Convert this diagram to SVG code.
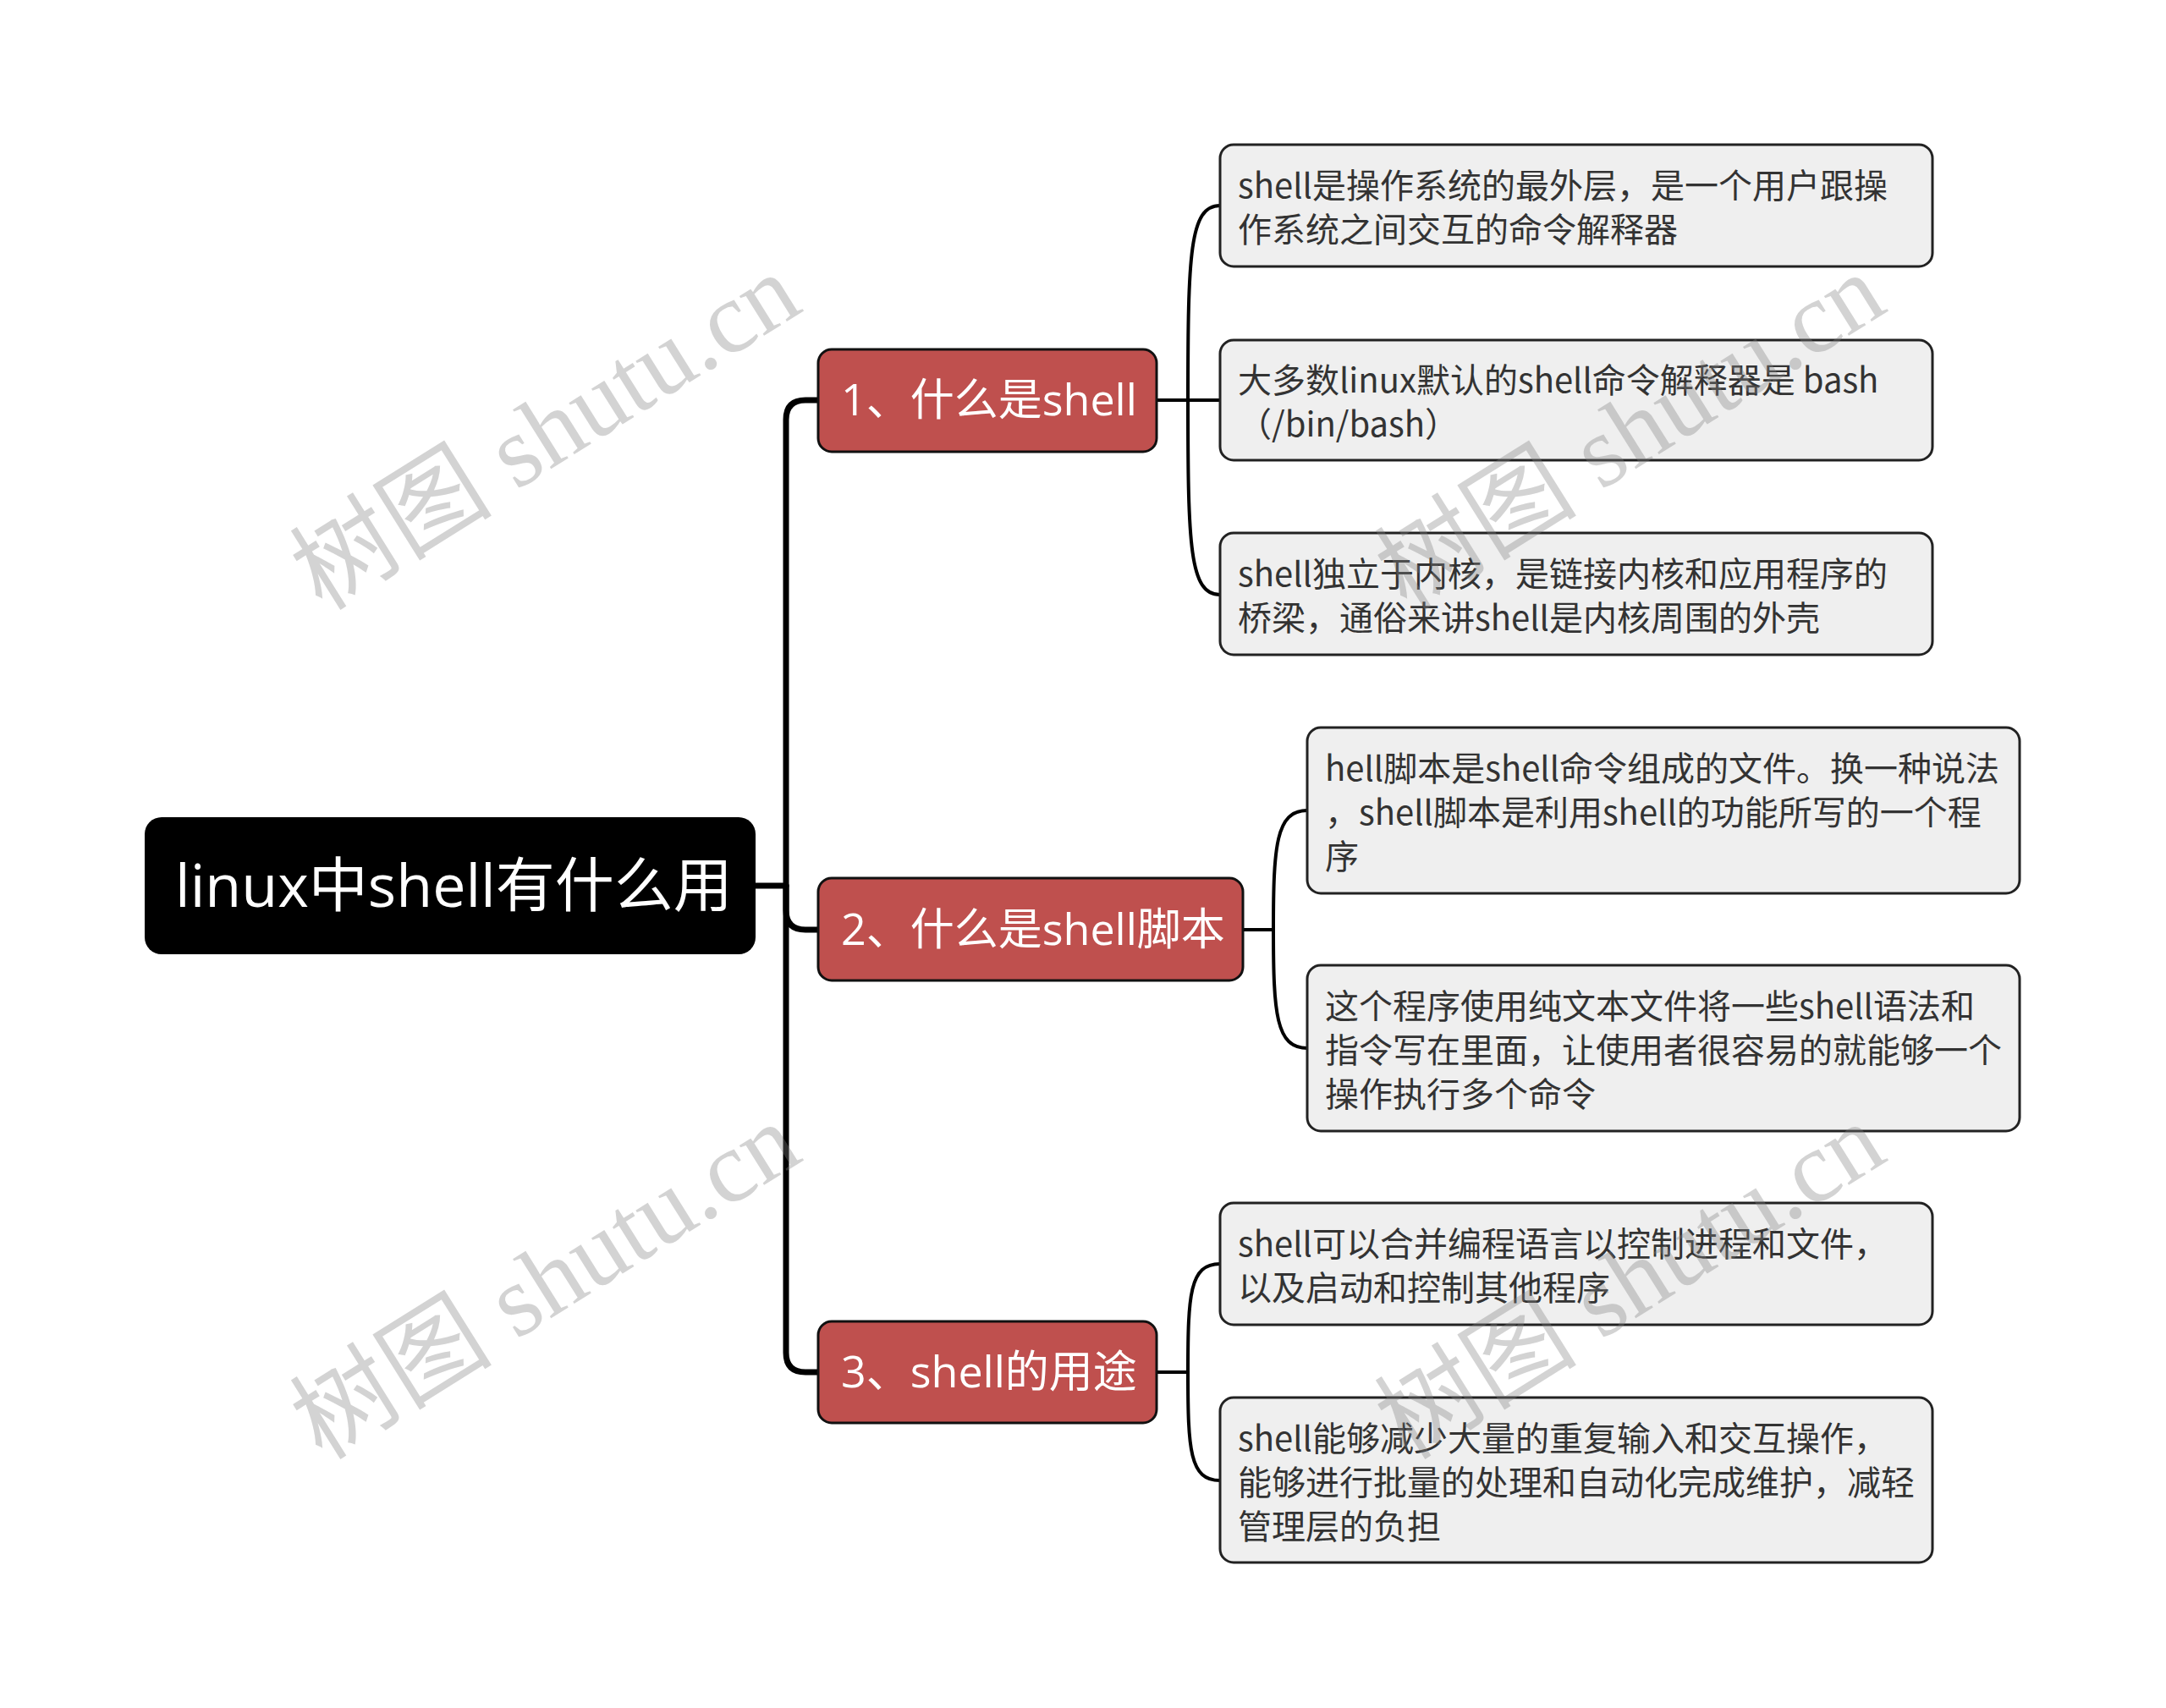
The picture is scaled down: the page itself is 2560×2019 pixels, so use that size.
<svg xmlns="http://www.w3.org/2000/svg" width="2560" height="2019" viewBox="0 0 2560 2019">
<style>
.root rect{fill:#000;stroke:none}
.root text{fill:#fff;font-family:"Open Sans","Noto Sans CJK SC",sans-serif;font-size:70px}
.l1 rect{fill:#BF504E;stroke:#111;stroke-width:3}
.l1 text{fill:#fff;font-family:"Open Sans","Noto Sans CJK SC",sans-serif;font-size:52px}
.leaf rect{fill:#EFEFEF;stroke:#222;stroke-width:3}
.leaf text{fill:#333;font-family:"Noto Sans CJK SC",sans-serif;font-size:40px}
.thick{fill:none;stroke:#000;stroke-width:7;stroke-linecap:round}
.thin{fill:none;stroke:#000;stroke-width:4;stroke-linecap:round}
.wm{fill:#808080;fill-opacity:0.35;font-family:"Liberation Serif","Noto Sans CJK SC",serif;font-size:120px}
</style>
<rect x="0" y="0" width="2560" height="2019" fill="#fff"/>
<g id="connectors">
<path class="thick" d="M893 1047 H929"/>
<path class="thick" d="M967 473 H952 Q929 473 929 496 V1599 Q929 1622 952 1622 H967"/>
<path class="thick" d="M929 1047 V1076 Q929 1099 952 1099 H967"/>
<path class="thin" d="M1367 473 H1442"/>
<path class="thin" d="M1404 473 C1404 300 1406 243 1442 243"/>
<path class="thin" d="M1404 473 C1404 646 1406 703 1442 703"/>
<path class="thin" d="M1469 1099 H1505"/>
<path class="thin" d="M1505 1099 C1505 1000 1508 958 1545 958"/>
<path class="thin" d="M1505 1099 C1505 1198 1508 1239 1545 1239"/>
<path class="thin" d="M1367 1622 H1404"/>
<path class="thin" d="M1404 1622 C1404 1530 1406 1494 1442 1494"/>
<path class="thin" d="M1404 1622 C1404 1714 1406 1750 1442 1750"/>
</g>
<g id="root" class="root">
<rect x="171" y="966" width="722" height="162" rx="20"/>
<text x="207" y="1072">linux中shell有什么用</text>
</g>
<g id="n1" class="l1">
<rect x="967" y="413" width="400" height="121" rx="16"/>
<text x="994" y="491">1、什么是shell</text>
</g>
<g id="n2" class="l1">
<rect x="967" y="1038" width="502" height="121" rx="16"/>
<text x="994" y="1117">2、什么是shell脚本</text>
</g>
<g id="n3" class="l1">
<rect x="967" y="1562" width="400" height="120" rx="16"/>
<text x="994" y="1640">3、shell的用途</text>
</g>
<g id="leaf1" class="leaf">
<rect x="1442" y="171" width="842" height="144" rx="16"/>
<text x="1463" y="234">shell是操作系统的最外层，是一个用户跟操</text>
<text x="1463" y="286">作系统之间交互的命令解释器</text>
</g>
<g id="leaf2" class="leaf">
<rect x="1442" y="402" width="842" height="142" rx="16"/>
<text x="1463" y="464">大多数linux默认的shell命令解释器是 bash</text>
<text x="1463" y="516">（/bin/bash）</text>
</g>
<g id="leaf3" class="leaf">
<rect x="1442" y="630" width="842" height="144" rx="16"/>
<text x="1463" y="693">shell独立于内核，是链接内核和应用程序的</text>
<text x="1463" y="745">桥梁，通俗来讲shell是内核周围的外壳</text>
</g>
<g id="leaf4" class="leaf">
<rect x="1545" y="860" width="842" height="196" rx="16"/>
<text x="1566" y="923">hell脚本是shell命令组成的文件。换一种说法</text>
<text x="1566" y="975">，shell脚本是利用shell的功能所写的一个程</text>
<text x="1566" y="1027">序</text>
</g>
<g id="leaf5" class="leaf">
<rect x="1545" y="1141" width="842" height="196" rx="16"/>
<text x="1566" y="1204">这个程序使用纯文本文件将一些shell语法和</text>
<text x="1566" y="1256">指令写在里面，让使用者很容易的就能够一个</text>
<text x="1566" y="1308">操作执行多个命令</text>
</g>
<g id="leaf6" class="leaf">
<rect x="1442" y="1422" width="842" height="144" rx="16"/>
<text x="1463" y="1485">shell可以合并编程语言以控制进程和文件，</text>
<text x="1463" y="1537">以及启动和控制其他程序</text>
</g>
<g id="leaf7" class="leaf">
<rect x="1442" y="1652" width="842" height="195" rx="16"/>
<text x="1463" y="1715">shell能够减少大量的重复输入和交互操作，</text>
<text x="1463" y="1767">能够进行批量的处理和自动化完成维护，减轻</text>
<text x="1463" y="1819">管理层的负担</text>
</g>
<g id="watermarks" class="wm" text-anchor="middle">
<text transform="translate(645 511) rotate(-32)" y="40">树图 shutu.cn</text>
<text transform="translate(1927 511) rotate(-32)" y="40">树图 shutu.cn</text>
<text transform="translate(645 1515) rotate(-32)" y="40">树图 shutu.cn</text>
<text transform="translate(1927 1515) rotate(-32)" y="40">树图 shutu.cn</text>
</g>
</svg>
